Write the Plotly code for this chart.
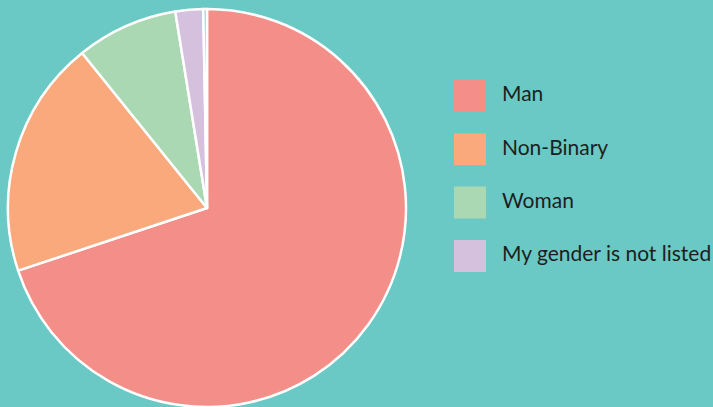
import plotly.graph_objects as go

categories = ["Man", "Non-Binary", "Woman", "My gender is not listed", "Other"]
values = [69.9, 19.3, 8.25, 2.25, 0.3]
colors = ["#F48E88", "#F9A97B", "#AAD8B2", "#D5C1DE", "#8FD6CF"]
legend_labels = categories[:4]
legend_colors = colors[:4]

W, H = 713, 407
BG = "#6AC9C4"

fig = go.Figure()

cx, cy, r = 207, 208, 199
fig.add_trace(go.Pie(
    labels=categories, values=values, sort=False, direction="clockwise",
    marker=dict(colors=colors, line=dict(color="white", width=2.5)),
    textinfo="none", hoverinfo="label+percent", showlegend=False,
    domain=dict(x=[(cx - r) / W, (cx + r) / W], y=[(H - cy - r) / H, (H - cy + r) / H]),
))

idx = list(range(len(legend_labels)))
fig.add_trace(go.Scatter(
    x=[0] * len(idx), y=idx, mode="markers",
    marker=dict(symbol="square", size=32, color=legend_colors, line=dict(width=0)),
    showlegend=False, hoverinfo="skip",
))
fig.add_trace(go.Scatter(
    x=[32] * len(idx), y=idx, mode="text", text=legend_labels,
    textposition="middle right",
    textfont=dict(family="Lato, sans-serif", size=21, color="#1E1E1E"),
    showlegend=False, hoverinfo="skip",
))

row0, step = 96, 53.3
fig.update_layout(
    width=W, height=H, margin=dict(l=0, r=0, t=0, b=0),
    paper_bgcolor=BG, plot_bgcolor=BG,
    xaxis=dict(range=[-470, W - 470], visible=False, fixedrange=True),
    yaxis=dict(range=[(H - row0) / step, -row0 / step], visible=False, fixedrange=True),
)

fig.write_html(
    "out.html",
    config={"displayModeBar": False},
    post_script="document.body.style.margin='0';document.body.style.background='%s';" % BG,
)
